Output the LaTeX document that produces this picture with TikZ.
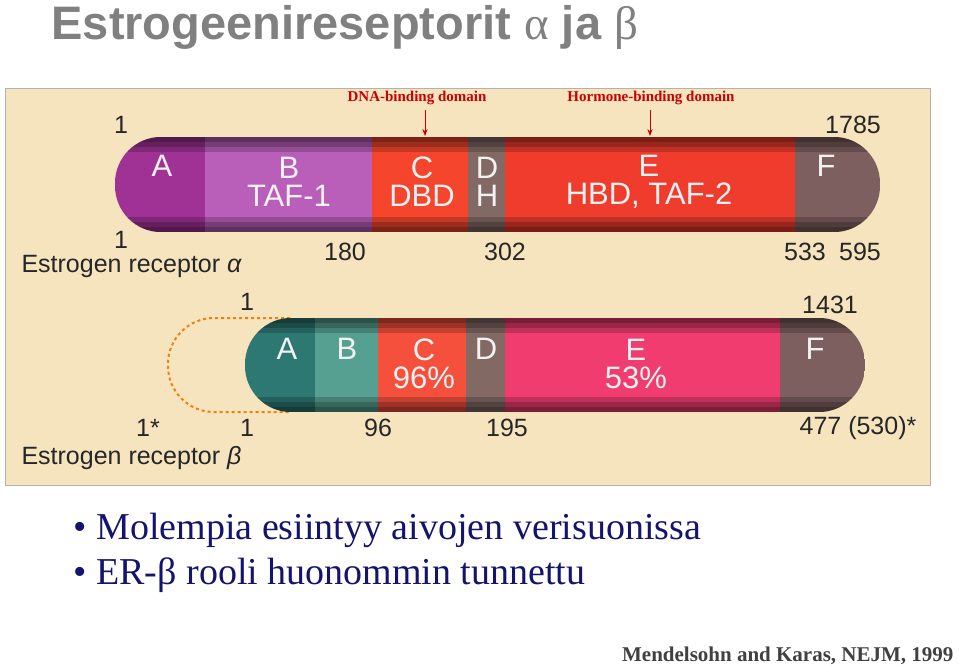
\documentclass[tikz,border=0pt]{standalone}
\usepackage{fontspec}
\setmainfont{Liberation Serif}
\setsansfont{Liberation Sans}
\usetikzlibrary{arrows.meta,positioning}
\definecolor{panel}{RGB}{245,228,190}
\definecolor{titlegray}{RGB}{128,128,128}
\definecolor{bullblue}{RGB}{20,20,110}
\definecolor{aAcol}{RGB}{160,50,150}
\definecolor{aBcol}{RGB}{185,95,185}
\definecolor{aCcol}{RGB}{245,70,45}
\definecolor{dcol}{RGB}{130,105,100}
\definecolor{aEcol}{RGB}{240,60,45}
\definecolor{fcol}{RGB}{125,95,95}
\definecolor{bAcol}{RGB}{45,120,115}
\definecolor{bBcol}{RGB}{85,160,145}
\definecolor{bCcol}{RGB}{245,80,60}
\definecolor{bEcol}{RGB}{240,60,110}
\tikzset{
  edge band/.style={fill=black,fill opacity=0.2},
  barlbl/.style={font=\sffamily\fontsize{31}{31}\selectfont,text=white!90!gray},
  num/.style={font=\sffamily\fontsize{25}{25}\selectfont,text=black!85},
  toplbl/.style={font=\bfseries\fontsize{15}{15}\selectfont,text=red!80!black},
  bull/.style={font=\fontsize{38}{40}\selectfont,text=bullblue,anchor=west}
}
\begin{document}
\begin{tikzpicture}[x=1pt,y=-1pt]
\useasboundingbox (0,0) rectangle (959,666);
% title
\node[anchor=west,text=titlegray,font=\sffamily\bfseries\fontsize{47}{47}\selectfont] (title) at (48,27)
  {Estrogeenireseptorit {\rmfamily\mdseries α} ja {\rmfamily\mdseries β}};
% panel
\fill[panel,draw=gray!60] (5,88) rectangle (930,485);
% domain labels
\node[toplbl] (dnalbl) at (417,98) {DNA-binding domain};
\node[toplbl] (hbdlbl) at (651,98) {Hormone-binding domain};
\coordinate (dnatip) at (425,136);
\coordinate (hbdtip) at (650,136);
\draw[-{Stealth[length=7pt]},thick,red!80!black] (425,110) -- (dnatip);
\draw[-{Stealth[length=7pt]},thick,red!80!black] (650,110) -- (hbdtip);
% receptor alpha
\begin{scope}
\clip[rounded corners=46] (115,137) rectangle (880,232);
\foreach \xa/\xb/\col in {115/205/aAcol,205/372/aBcol,372/468/aCcol,468/505/dcol,505/795/aEcol,795/880/fcol}
  \fill[\col] (\xa,137) rectangle (\xb,232);
\foreach \d in {0,5,10}{
  \fill[edge band] (115,137) rectangle (880,137+\d+5);
  \fill[edge band] (115,232-\d-5) rectangle (880,232);}
\end{scope}
\node[barlbl] (aA) at (162,166) {A};
\node[barlbl,align=center] (aB) at (289,182) {B\\[-3pt]TAF-1};
\node[barlbl,align=center] (aC) at (422,182) {C\\[-3pt]DBD};
\node[barlbl,align=center] (aD) at (487,182) {D\\[-3pt]H};
\node[barlbl,align=center] (aE) at (649,182) {E\\[-3pt]HBD, TAF-2};
\node[barlbl] (aF) at (826,166) {F};
\node[num] (a1t) at (121,125) {1};
\node[num] (a1785) at (853,125) {1785};
\node[num] (a1b) at (121,240) {1};
\node[num] (a180) at (345,252) {180};
\node[num] (a302) at (505,252) {302};
\node[num] (a533) at (805,252) {533};
\node[num] (a595) at (860,252) {595};
\node[num,anchor=west] (alpha) at (18,266) {Estrogen receptor \textit{α}};
% receptor beta
\draw[dashed,line width=2pt,orange!80!brown,rounded corners=46] (290,318) -- (168,318) -- (168,412) -- (290,412);
\begin{scope}
\clip[rounded corners=46] (245,318) rectangle (865,412);
\foreach \xa/\xb/\col in {245/315/bAcol,315/378/bBcol,378/466/bCcol,466/505/dcol,505/780/bEcol,780/865/fcol}
  \fill[\col] (\xa,318) rectangle (\xb,412);
\foreach \d in {0,5,10}{
  \fill[edge band] (245,318) rectangle (865,318+\d+5);
  \fill[edge band] (245,412-\d-5) rectangle (865,412);}
\end{scope}
\node[barlbl] (bA) at (287,349) {A};
\node[barlbl] (bB) at (347,349) {B};
\node[barlbl,align=center] (bC) at (424,364) {C\\[-3pt]96\%};
\node[barlbl] (bD) at (486,349) {D};
\node[barlbl,align=center] (bE) at (636,364) {E\\[-3pt]53\%};
\node[barlbl] (bF) at (815,349) {F};
\node[num] (b1t) at (247,302) {1};
\node[num] (b1431) at (830,305) {1431};
\node[num] (b1s) at (148,428) {1*};
\node[num] (b1b) at (247,428) {1};
\node[num] (b96) at (378,428) {96};
\node[num] (b195) at (507,428) {195};
\node[num] (b477) at (858,428) {477 (530)*};
\node[num,anchor=west] (beta) at (18,458) {Estrogen receptor \textit{β}};
% bullets
\node[bull] (bul1) at (70,530) {• Molempia esiintyy aivojen verisuonissa};
\node[bull] (bul2) at (70,575) {• ER-β rooli huonommin tunnettu};
\node[anchor=east,font=\bfseries\fontsize{21}{21}\selectfont,text=black!75] (cite) at (957,656)
  {Mendelsohn and Karas, NEJM, 1999};
\end{tikzpicture}
\end{document}
